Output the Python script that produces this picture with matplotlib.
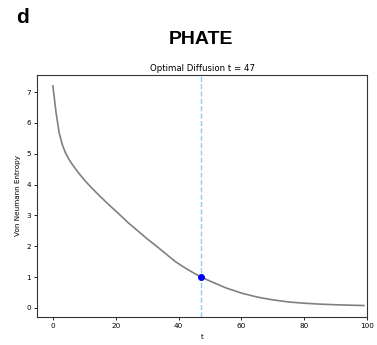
import matplotlib
matplotlib.use("Agg")
import matplotlib.pyplot as plt

# Von Neumann entropy of the diffusion operator versus diffusion time t
t_values = [0, 1, 2, 3, 4, 5, 6, 8, 10, 12, 15, 18, 21, 24, 27, 30, 33, 36,
            39, 42, 45, 47, 50, 55, 60, 65, 70, 75, 80, 85, 90, 95, 99]
entropy = [7.20, 6.35, 5.68, 5.30, 5.03, 4.84, 4.68, 4.40, 4.15, 3.93, 3.62,
           3.33, 3.05, 2.76, 2.50, 2.24, 2.00, 1.75, 1.50, 1.30, 1.12, 1.01,
           0.87, 0.65, 0.48, 0.35, 0.26, 0.19, 0.15, 0.12, 0.10, 0.085, 0.075]
optimal_t = 47
optimal_entropy = 1.01

fig = plt.figure(figsize=(3.77, 3.45), dpi=100)
ax = fig.add_axes([0.099, 0.0826, 0.8745, 0.700])

ax.plot(t_values, entropy, color="gray", linewidth=1.2)
ax.axvline(optimal_t, color="#87CEFA", linestyle="--", linewidth=1.0)
ax.plot([optimal_t], [optimal_entropy], "o", color="blue", markersize=4)

ax.set_xlim(-4.95, 100)
ax.set_title(f"Optimal Diffusion t = {optimal_t}", fontsize=6.2, pad=3)
ax.set_xlabel("t", fontsize=5.2)
ax.set_ylabel("Von Neumann Entropy", fontsize=5.2)
ax.tick_params(labelsize=5.2, length=2.5, width=0.6, pad=2)
for spine in ax.spines.values():
    spine.set_linewidth(0.8)
    spine.set_color("#333333")

fig.text(0.533, 0.885, "PHATE", fontsize=14, fontweight="bold",
         family="Liberation Sans", ha="center", va="center")
fig.text(0.042, 0.978, "d", fontsize=15, fontweight="bold",
         family="Liberation Sans", ha="left", va="top")

fig.savefig("out.png", dpi=100)
